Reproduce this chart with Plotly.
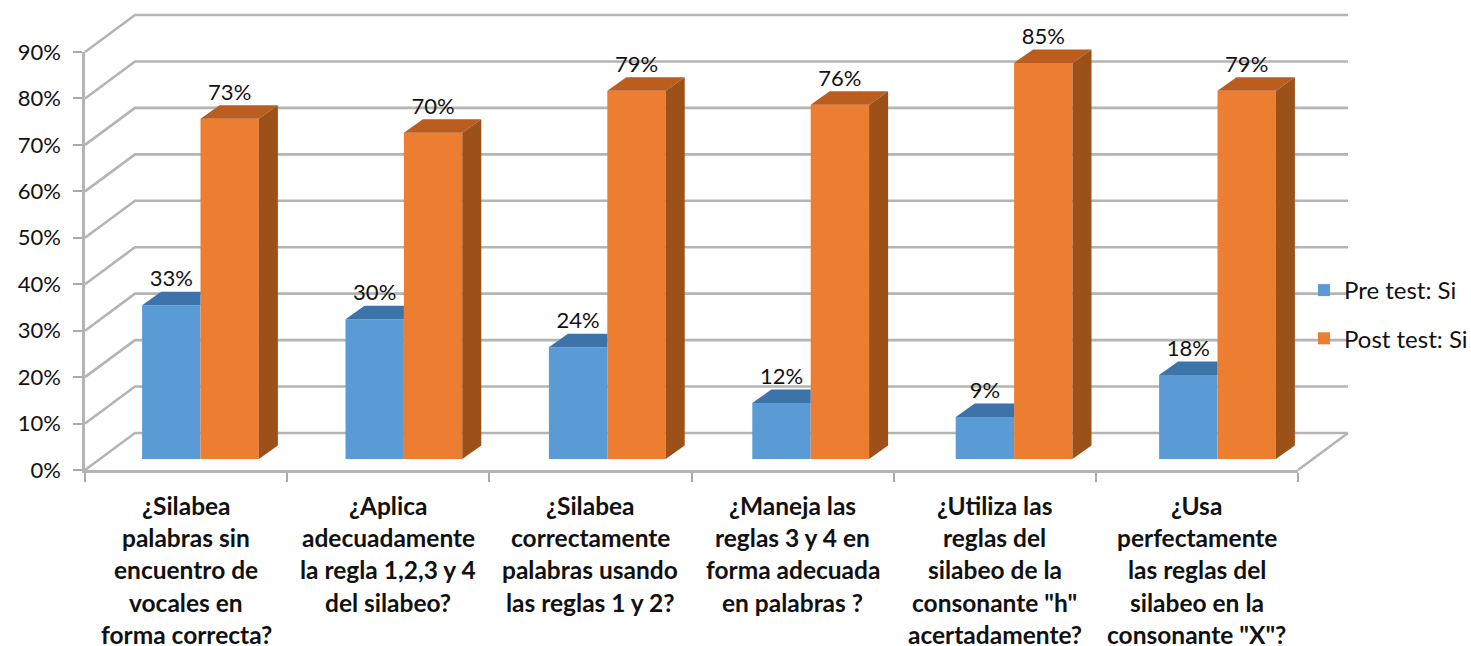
import plotly.graph_objects as go

categories = [
    ["¿Silabea", "palabras sin", "encuentro de", "vocales en", "forma correcta?"],
    ["¿Aplica", "adecuadamente", "la regla 1,2,3 y 4", "del silabeo?"],
    ["¿Silabea", "correctamente", "palabras usando", "las reglas 1 y 2?"],
    ["¿Maneja las", "reglas 3 y 4 en", "forma adecuada", "en palabras ?"],
    ["¿Utiliza las", "reglas del", "silabeo de la", "consonante \"h\"", "acertadamente?"],
    ["¿Usa", "perfectamente", "las reglas del", "silabeo en la", "consonante \"X\"?"],
]
pre_test = [33, 30, 24, 12, 9, 18]
post_test = [73, 70, 79, 76, 85, 79]
y_ticks = [0, 10, 20, 30, 40, 50, 60, 70, 80, 90]

W, H = 1471, 646
FONT = "Lato"
GRID = "#b4b4b4"

# front-plane axis geometry (pixels)
AX_L, AX_R, AX_B, AX_T = 85, 1298, 470, 52
px_x = (AX_R - AX_L) / 6
px_y = (AX_B - AX_T) / 90
wall_dx = 50 / px_x
wall_dy = 37 / px_y

# bar geometry: slot spacing / percent scale
BAR_C0, BAR_STEP, BAR_B, BAR_SCALE = 200.5, 203.4, 459, 4.66
BAR_W = 58.4 / BAR_STEP
depth_x = 19 / BAR_STEP
depth_y = 13.5 / BAR_SCALE

fig = go.Figure()


def wall_line(xs, ys):
    fig.add_trace(go.Scatter(x=xs, y=ys, mode="lines", showlegend=False, hoverinfo="skip",
                             line=dict(color=GRID, width=2.6)))


# gridlines on side and back walls, and floor edge
for v in y_ticks:
    wall_line([0, wall_dx, 6 + wall_dx], [v, v + wall_dy, v + wall_dy])
wall_line([6, 6 + wall_dx], [0, wall_dy])

# real bars
fig.add_trace(go.Bar(x=list(range(6)), y=pre_test, name="Pre test: Si", marker=dict(color="#5b9bd5", line_width=0),
                     xaxis="x2", yaxis="y2", legendgroup="a"))
fig.add_trace(go.Bar(x=list(range(6)), y=post_test, name="Post test: Si", marker=dict(color="#ed7d31", line_width=0),
                     xaxis="x2", yaxis="y2", legendgroup="b"))


def poly(xs, ys, color):
    fig.add_trace(go.Scatter(x=xs, y=ys, mode="lines", fill="toself", fillcolor=color, showlegend=False,
                             hoverinfo="skip", line=dict(width=0, color=color),
                             xaxis="x2", yaxis="y2"))


# pre-test tops, clipped where the post-test bar hides them
tx, ty = [], []
for i, v in enumerate(pre_test):
    tx += [i - BAR_W, i, i, i - BAR_W + depth_x, None]
    ty += [v, v, v + depth_y, v + depth_y, None]
poly(tx, ty, "#3c73a8")

# post-test tops and sides
tx, ty, sx, sy = [], [], [], []
for i, v in enumerate(post_test):
    tx += [i, i + BAR_W, i + BAR_W + depth_x, i + depth_x, None]
    ty += [v, v, v + depth_y, v + depth_y, None]
    sx += [i + BAR_W, i + BAR_W + depth_x, i + BAR_W + depth_x, i + BAR_W, None]
    sy += [0, depth_y, v + depth_y, v, None]
poly(tx, ty, "#bb5d1e")
poly(sx, sy, "#9c5119")

# value labels
for vals, off in ((pre_test, -BAR_W / 2), (post_test, BAR_W / 2)):
    fig.add_trace(go.Scatter(x=[i + off for i in range(6)], y=[v + depth_y for v in vals], mode="text",
                             text=[f"{v}%" for v in vals], textposition="top center", showlegend=False,
                             hoverinfo="skip", cliponaxis=False,
                             textfont=dict(family=FONT, size=22, color="#111111"),
                             xaxis="x2", yaxis="y2"))

# invisible carrier so the front-plane axes exist as their own subplot
fig.add_trace(go.Scatter(x=[0, 6], y=[0, 90], mode="lines", line=dict(width=0), showlegend=False,
                         hoverinfo="skip", xaxis="x3", yaxis="y3"))

annotations = []
for i, lines in enumerate(categories):
    for k, line in enumerate(lines):
        annotations.append(dict(x=i + 0.5, y=0, xref="x3", yref="y3", text=line, showarrow=False,
                                xanchor="center", yanchor="middle", yshift=-(35 + 32.4 * k),
                                font=dict(family=FONT, size=24.5, color="#111111", weight="bold")))

fig.update_layout(
    width=W, height=H, autosize=False,
    margin=dict(l=0, r=0, t=0, b=0, autoexpand=False),
    paper_bgcolor="white", plot_bgcolor="rgba(0,0,0,0)",
    barmode="group", bargap=1 - 2 * BAR_W, bargroupgap=0,
    font=dict(family=FONT),
    annotations=annotations,
    # full-figure axes for the walls
    xaxis=dict(domain=[0, 1], range=[-AX_L / px_x, (W - AX_L) / px_x], visible=False, fixedrange=True),
    yaxis=dict(domain=[0, 1], range=[(AX_B - H) / px_y, AX_B / px_y], visible=False, fixedrange=True),
    # full-figure axes for the bars
    xaxis2=dict(overlaying="x", anchor="y2", range=[-BAR_C0 / BAR_STEP, (W - BAR_C0) / BAR_STEP],
                visible=False, fixedrange=True),
    yaxis2=dict(overlaying="y", anchor="x2", range=[(BAR_B - H) / BAR_SCALE, BAR_B / BAR_SCALE],
                visible=False, fixedrange=True),
    # visible front-plane axes
    xaxis3=dict(domain=[AX_L / W, AX_R / W], anchor="y3", range=[0, 6], tickvals=list(range(7)),
                ticktext=[""] * 7, ticks="outside", ticklen=9, tickwidth=1.5, tickcolor="#aaaaaa",
                showline=True, linecolor=GRID, linewidth=2.6, showgrid=False, zeroline=False,
                fixedrange=True, automargin=False),
    yaxis3=dict(domain=[1 - AX_B / H, 1 - AX_T / H], anchor="x3", range=[0, 90], tickvals=y_ticks,
                ticktext=[f"{v}%" for v in y_ticks], ticks="outside", ticklen=9, tickwidth=1.5,
                tickcolor="#aaaaaa", showline=True, linecolor=GRID, linewidth=2.6, showgrid=False,
                zeroline=False, fixedrange=True, tickfont=dict(family=FONT, size=22, color="#111111"),
                ticklabelstandoff=8, automargin=False),
    legend=dict(x=1304 / W, y=1 - 268 / H, xanchor="left", yanchor="top",
                bgcolor="rgba(0,0,0,0)", tracegroupgap=14,
                font=dict(family=FONT, size=24, color="#111111"), itemclick=False, itemdoubleclick=False),
)

fig.write_html("out.html", post_script="document.body.style.margin='0';document.body.style.overflow='hidden';",
               config={"displayModeBar": False})
